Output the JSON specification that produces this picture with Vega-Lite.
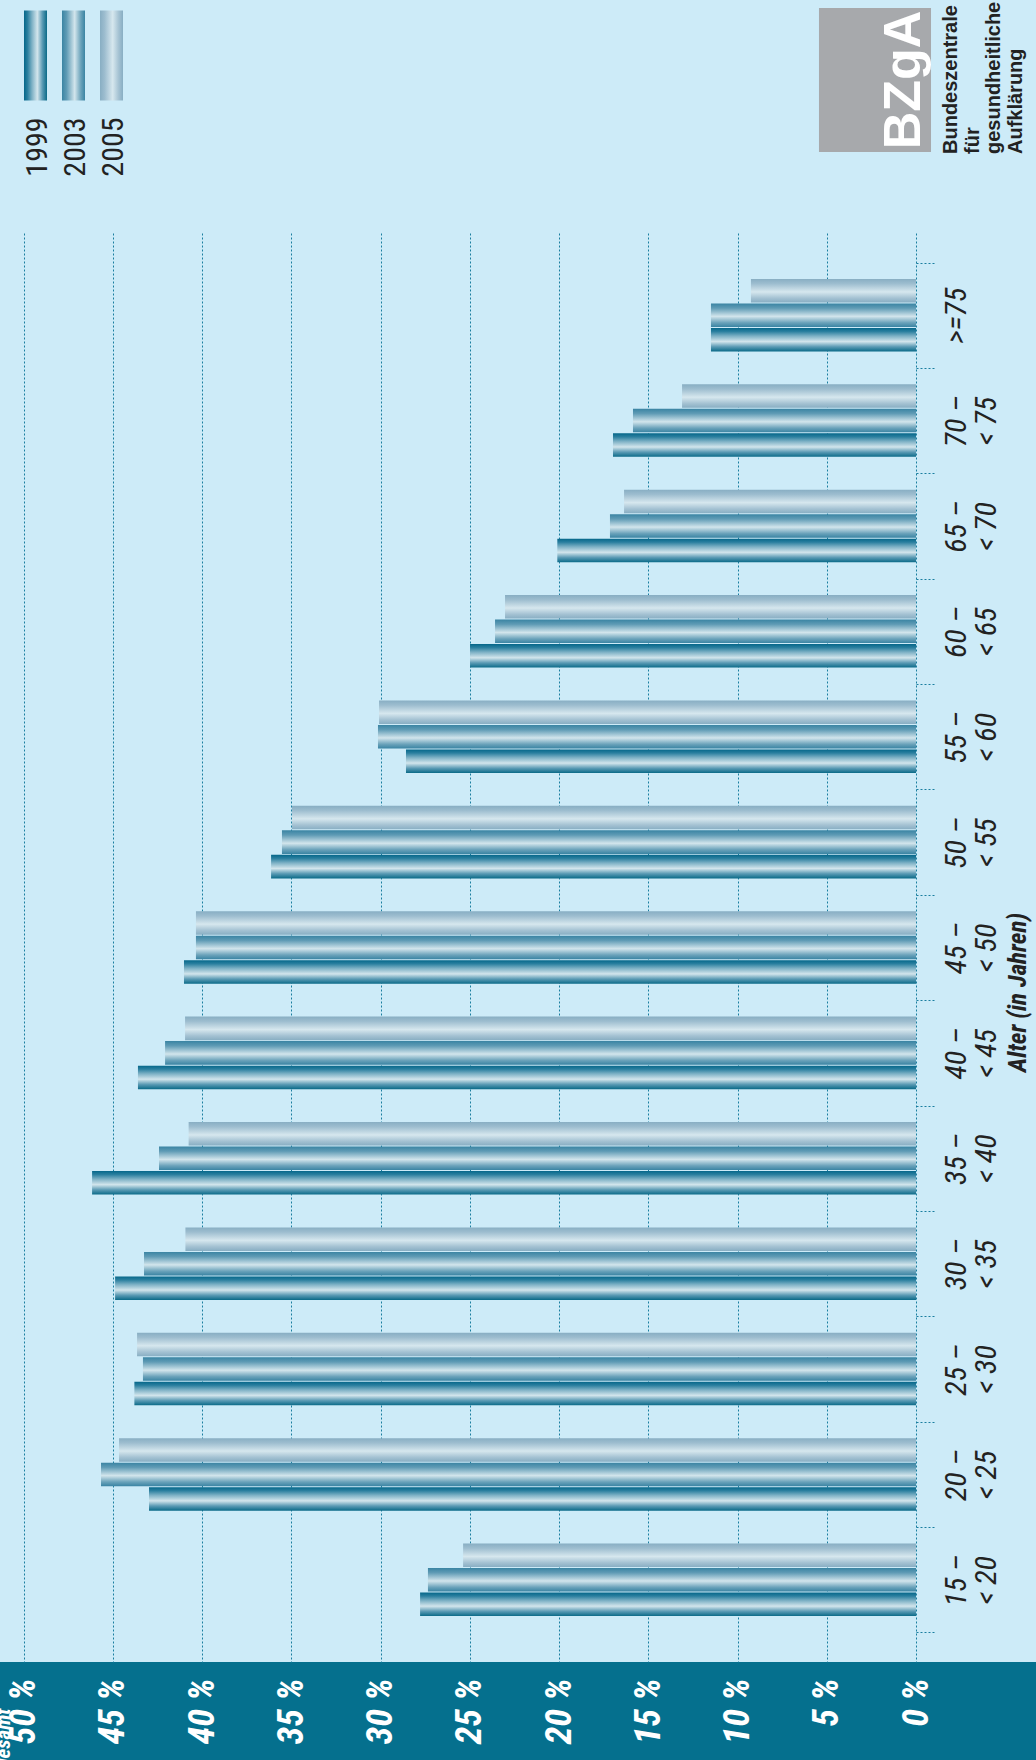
{
  "$schema": "https://vega.github.io/schema/vega-lite/v6.json",
  "width": 1036,
  "height": 1662,
  "autosize": {"type": "none"},
  "padding": {"left": 0, "top": 0, "right": 0, "bottom": 98},
  "background": "#05708e",
  "view": {"fill": "#cdebf8", "stroke": null},
  "config": {
    "view": {"fill": "#cdebf8", "stroke": null},
    "font": "Liberation Sans Narrow, Roboto Condensed, DejaVu Sans Condensed, sans-serif"
  },
  "resolve": {"scale": {"shape": "independent"}, "legend": {"shape": "independent"}},
  "layer": [
    {
      "data": {
        "values": [
          {"alter": "15 – < 20", "year": "1999", "pct": 27.79},
          {"alter": "15 – < 20", "year": "2003", "pct": 27.35},
          {"alter": "15 – < 20", "year": "2005", "pct": 25.38},
          {"alter": "20 – < 25", "year": "1999", "pct": 42.98},
          {"alter": "20 – < 25", "year": "2003", "pct": 45.67},
          {"alter": "20 – < 25", "year": "2005", "pct": 44.66},
          {"alter": "25 – < 30", "year": "1999", "pct": 43.8},
          {"alter": "25 – < 30", "year": "2003", "pct": 43.32},
          {"alter": "25 – < 30", "year": "2005", "pct": 43.65},
          {"alter": "30 – < 35", "year": "1999", "pct": 44.88},
          {"alter": "30 – < 35", "year": "2003", "pct": 43.26},
          {"alter": "30 – < 35", "year": "2005", "pct": 40.94},
          {"alter": "35 – < 40", "year": "1999", "pct": 46.17},
          {"alter": "35 – < 40", "year": "2003", "pct": 42.42},
          {"alter": "35 – < 40", "year": "2005", "pct": 40.76},
          {"alter": "40 – < 45", "year": "1999", "pct": 43.6},
          {"alter": "40 – < 45", "year": "2003", "pct": 42.08},
          {"alter": "40 – < 45", "year": "2005", "pct": 40.96},
          {"alter": "45 – < 50", "year": "1999", "pct": 41.02},
          {"alter": "45 – < 50", "year": "2003", "pct": 40.35},
          {"alter": "45 – < 50", "year": "2005", "pct": 40.35},
          {"alter": "50 – < 55", "year": "1999", "pct": 36.14},
          {"alter": "50 – < 55", "year": "2003", "pct": 35.53},
          {"alter": "50 – < 55", "year": "2005", "pct": 34.97},
          {"alter": "55 – < 60", "year": "1999", "pct": 28.58},
          {"alter": "55 – < 60", "year": "2003", "pct": 30.15},
          {"alter": "55 – < 60", "year": "2005", "pct": 30.09},
          {"alter": "60 – < 65", "year": "1999", "pct": 24.99},
          {"alter": "60 – < 65", "year": "2003", "pct": 23.59},
          {"alter": "60 – < 65", "year": "2005", "pct": 23.03},
          {"alter": "65 – < 70", "year": "1999", "pct": 20.1},
          {"alter": "65 – < 70", "year": "2003", "pct": 17.15},
          {"alter": "65 – < 70", "year": "2005", "pct": 16.36},
          {"alter": "70 – < 75", "year": "1999", "pct": 16.98},
          {"alter": "70 – < 75", "year": "2003", "pct": 15.86},
          {"alter": "70 – < 75", "year": "2005", "pct": 13.11},
          {"alter": ">=75", "year": "1999", "pct": 11.49},
          {"alter": ">=75", "year": "2003", "pct": 11.49},
          {"alter": ">=75", "year": "2005", "pct": 9.25}
        ]
      },
      "mark": {"type": "bar", "strokeWidth": 0},
      "encoding": {
        "y": {
          "field": "alter",
          "type": "nominal",
          "scale": {
            "domain": [">=75", "70 – < 75", "65 – < 70", "60 – < 65", "55 – < 60", "50 – < 55", "45 – < 50", "40 – < 45", "35 – < 40", "30 – < 35", "25 – < 30", "20 – < 25", "15 – < 20"],
            "range": [233, 1662],
            "paddingInner": 0,
            "paddingOuter": 0.28
          },
          "axis": {
            "orient": "right",
            "offset": -120,
            "domain": false,
            "grid": false,
            "ticks": true,
            "tickBand": "extent",
            "tickSize": 20,
            "tickDash": [2, 2],
            "tickColor": "#1a7ea0",
            "tickWidth": 1,
            "labelPadding": 20,
            "labelAngle": 270,
            "labelAlign": "center",
            "labelBaseline": "middle",
            "labelLineHeight": 30,
            "labelFontSize": 30,
            "labelFontStyle": "italic",
            "labelColor": "#222222",
            "labelOverlap": false,
            "labelLimit": 300,
            "labelExpr": "indexof(datum.label, ' – ') > 0 ? [split(datum.label, ' – ')[0] + ' –', split(datum.label, ' – ')[1]] : [datum.label, '']",
            "title": "Alter (in Jahren)",
            "titleAngle": 270,
            "titleX": 101,
            "titleY": 992,
            "titleAlign": "center",
            "titleBaseline": "middle",
            "titleFontSize": 25,
            "titleFontStyle": "italic",
            "titleFontWeight": "bold",
            "titleColor": "#222222"
          }
        },
        "yOffset": {
          "field": "year",
          "type": "nominal",
          "sort": ["2005", "2003", "1999"],
          "scale": {"paddingInner": 0.04, "paddingOuter": 0.67}
        },
        "x": {
          "field": "pct",
          "type": "quantitative",
          "scale": {"domain": [-6.724, 51.33], "reverse": true, "nice": false, "zero": false},
          "axis": {
            "orient": "top",
            "offset": -1678,
            "values": [0, 5, 10, 15, 20, 25, 30, 35, 40, 45, 50],
            "domain": false,
            "ticks": false,
            "tickSize": 0,
            "grid": true,
            "gridColor": "#1a7ea0",
            "gridDash": [2, 2],
            "gridWidth": 1,
            "labelPadding": 0,
            "labelAngle": 270,
            "labelAlign": "right",
            "labelBaseline": "middle",
            "labelColor": "#ffffff",
            "labelFontSize": 36,
            "labelFontWeight": "bold",
            "labelFontStyle": "italic",
            "labelOverlap": false,
            "labelBound": false,
            "labelFlush": false,
            "labelExpr": "datum.value + ' %'",
            "title": "Quelle: Statistisches Bundesamt",
            "titleAngle": 270,
            "titleX": 3,
            "titleY": 30,
            "titleAlign": "right",
            "titleBaseline": "middle",
            "titleColor": "#ffffff",
            "titleFontSize": 21,
            "titleFontWeight": "bold",
            "titleFontStyle": "italic"
          }
        },
        "x2": {"datum": 0},
        "fill": {
          "field": "year",
          "type": "nominal",
          "condition": [
            {"test": "datum.year === '1999'", "value": {"gradient": "linear", "x1": 0, "y1": 0, "x2": 0, "y2": 1, "stops": [{"offset": 0, "color": "#05678a"}, {"offset": 0.15, "color": "#2a7f9f"}, {"offset": 0.35, "color": "#7fb2c6"}, {"offset": 0.58, "color": "#d2e5ec"}, {"offset": 0.8, "color": "#5a9ab4"}, {"offset": 1, "color": "#0a6a88"}]}},
            {"test": "datum.year === '2003'", "value": {"gradient": "linear", "x1": 0, "y1": 0, "x2": 0, "y2": 1, "stops": [{"offset": 0, "color": "#3a84a3"}, {"offset": 0.2, "color": "#5f9bb5"}, {"offset": 0.55, "color": "#d2e5ec"}, {"offset": 0.82, "color": "#6aa2ba"}, {"offset": 1, "color": "#3a84a3"}]}},
            {"test": "datum.year === '2005'", "value": {"gradient": "linear", "x1": 0, "y1": 0, "x2": 0, "y2": 1, "stops": [{"offset": 0, "color": "#88aec3"}, {"offset": 0.2, "color": "#9dbdcf"}, {"offset": 0.55, "color": "#d6e7ee"}, {"offset": 0.82, "color": "#a3c1d2"}, {"offset": 1, "color": "#88aec3"}]}}
          ],
          "scale": {"domain": ["1999", "2003", "2005"], "range": ["#05678a", "#3a84a3", "#88aec3"]},
          "legend": null
        }
      }
    },
    {
      "data": {"values": [{"year": "1999"}, {"year": "2003"}, {"year": "2005"}]},
      "mark": {"type": "point", "filled": true, "opacity": 0, "color": "#3a84a3"},
      "encoding": {
        "shape": {
          "field": "year",
          "type": "nominal",
          "scale": {"domain": ["1999", "2003", "2005"], "range": ["M-0.2556,-1H0.2556V1H-0.2556Z", "M-0.2556,-1H0.2556V1H-0.2556Z", "M-0.2556,-1H0.2556V1H-0.2556Z"]},
          "legend": {
            "orient": "none",
            "legendX": 20.5,
            "legendY": 10,
            "direction": "horizontal",
            "columns": 3,
            "title": null,
            "padding": 0,
            "columnPadding": 5,
            "symbolOffset": -30,
            "symbolSize": 8100,
            "symbolStrokeWidth": 0,
            "symbolOpacity": 1,
            "labelFontSize": 30,
            "labelColor": "#222222",
            "encoding": {
              "symbols": {
                "opacity": {"value": 1},
                "strokeWidth": {"value": 0},
                "fill": {
                  "condition": [
                    {"test": "datum.value === '1999'", "value": {"gradient": "linear", "x1": 0, "y1": 0, "x2": 1, "y2": 0, "stops": [{"offset": 0, "color": "#05678a"}, {"offset": 0.15, "color": "#2a7f9f"}, {"offset": 0.35, "color": "#7fb2c6"}, {"offset": 0.58, "color": "#d2e5ec"}, {"offset": 0.8, "color": "#5a9ab4"}, {"offset": 1, "color": "#0a6a88"}]}},
                    {"test": "datum.value === '2003'", "value": {"gradient": "linear", "x1": 0, "y1": 0, "x2": 1, "y2": 0, "stops": [{"offset": 0, "color": "#3a84a3"}, {"offset": 0.2, "color": "#5f9bb5"}, {"offset": 0.55, "color": "#d2e5ec"}, {"offset": 0.82, "color": "#6aa2ba"}, {"offset": 1, "color": "#3a84a3"}]}}
                  ],
                  "value": {"gradient": "linear", "x1": 0, "y1": 0, "x2": 1, "y2": 0, "stops": [{"offset": 0, "color": "#88aec3"}, {"offset": 0.2, "color": "#9dbdcf"}, {"offset": 0.55, "color": "#d6e7ee"}, {"offset": 0.82, "color": "#a3c1d2"}, {"offset": 1, "color": "#88aec3"}]}
                }
              },
              "labels": {
                "angle": {"value": 270},
                "align": {"value": "right"},
                "baseline": {"value": "middle"},
                "x": {"value": 17.5},
                "y": {"value": 107}
              }
            }
          }
        }
      }
    },
    {
      "data": {"values": [{"quelle": "BZgA"}]},
      "mark": {"type": "point", "filled": true, "opacity": 0, "color": "#a7a9ac"},
      "encoding": {
        "shape": {
          "field": "quelle",
          "type": "nominal",
          "scale": {"range": ["M-0.778,-1H0.778V1H-0.778Z"]},
          "legend": {
            "orient": "none",
            "legendX": 803,
            "legendY": 8,
            "padding": 0,
            "symbolSize": 20736,
            "symbolFillColor": "#a7a9ac",
            "symbolStrokeWidth": 0,
            "symbolOpacity": 1,
            "labelOffset": -27,
            "labelFont": "Liberation Sans",
            "labelFontSize": 52,
            "labelFontWeight": "bold",
            "labelColor": "#ffffff",
            "labelLimit": 400,
            "title": ["Bundeszentrale", "für", "gesundheitliche", "Aufklärung"],
            "titleOrient": "right",
            "titlePadding": 26,
            "titleFont": "Liberation Sans",
            "titleFontSize": 20,
            "titleFontWeight": "bold",
            "titleColor": "#222222",
            "titleLineHeight": 21.7,
            "titleLimit": 400,
            "encoding": {
              "symbols": {"opacity": {"value": 1}, "fill": {"value": "#a7a9ac"}},
              "labels": {
                "angle": {"value": 270},
                "align": {"value": "center"},
                "baseline": {"value": "alphabetic"}
              },
              "title": {
                "angle": {"value": 270},
                "align": {"value": "left"},
                "baseline": {"value": "alphabetic"},
                "font": {"value": "Liberation Sans"},
                "dx": {"value": -107}
              }
            }
          }
        }
      }
    }
  ]
}
